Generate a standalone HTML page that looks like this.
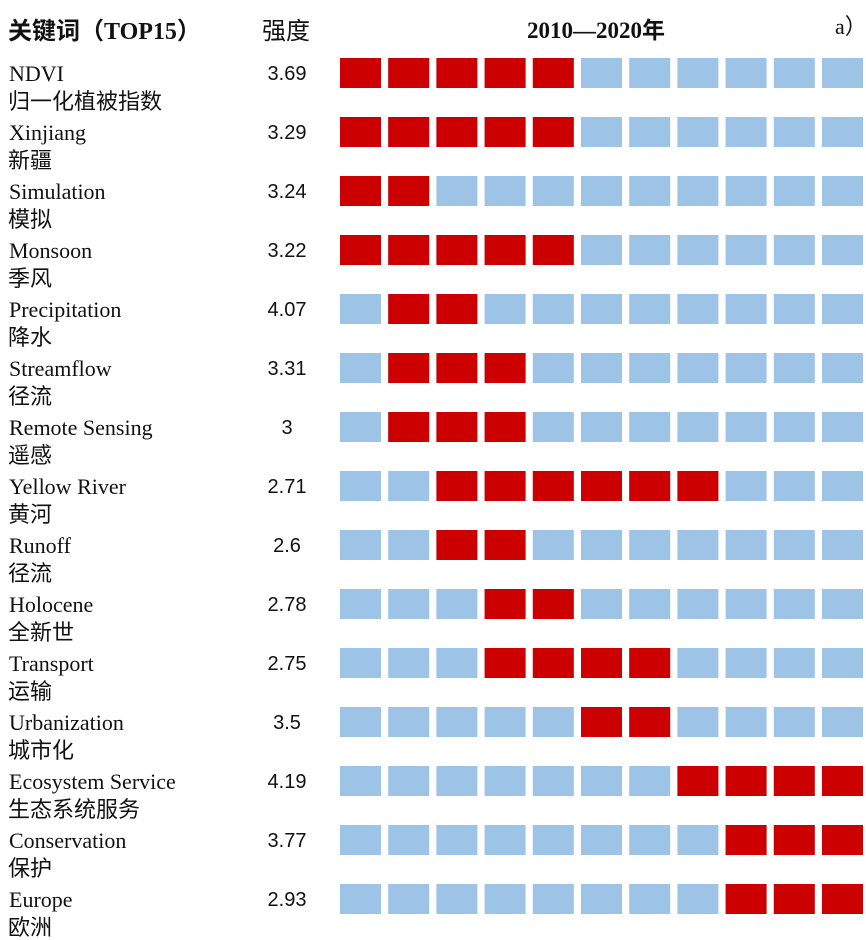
<!DOCTYPE html>
<html><head><meta charset="utf-8"><style>html,body{margin:0;padding:0;background:#fff}svg{display:block}</style></head>
<body>
<svg width="866" height="940" xmlns="http://www.w3.org/2000/svg">
<defs>
<g id="b" fill="#9dc3e6">
<rect x="340" y="0" width="41" height="30"/><rect x="388.2" y="0" width="41" height="30"/><rect x="436.4" y="0" width="41" height="30"/><rect x="484.6" y="0" width="41" height="30"/><rect x="532.8" y="0" width="41" height="30"/><rect x="581" y="0" width="41" height="30"/><rect x="629.2" y="0" width="41" height="30"/><rect x="677.4" y="0" width="41" height="30"/><rect x="725.6" y="0" width="41" height="30"/><rect x="773.8" y="0" width="41" height="30"/><rect x="822" y="0" width="41" height="30"/>
</g>
<rect id="r0" x="340" y="0" width="41" height="30" fill="#cc0000"/>
<rect id="r1" x="388.2" y="0" width="41" height="30" fill="#cc0000"/>
<rect id="r2" x="436.4" y="0" width="41" height="30" fill="#cc0000"/>
<rect id="r3" x="484.6" y="0" width="41" height="30" fill="#cc0000"/>
<rect id="r4" x="532.8" y="0" width="41" height="30" fill="#cc0000"/>
<rect id="r5" x="581" y="0" width="41" height="30" fill="#cc0000"/>
<rect id="r6" x="629.2" y="0" width="41" height="30" fill="#cc0000"/>
<rect id="r7" x="677.4" y="0" width="41" height="30" fill="#cc0000"/>
<rect id="r8" x="725.6" y="0" width="41" height="30" fill="#cc0000"/>
<rect id="r9" x="773.8" y="0" width="41" height="30" fill="#cc0000"/>
<rect id="r10" x="822" y="0" width="41" height="30" fill="#cc0000"/>
</defs>
<g font-family="'Liberation Serif','Noto Sans CJK SC',serif" font-weight="bold" font-size="24" fill="#111">
<text x="8" y="39">关键词（TOP15）</text>
<text x="262" y="39" font-family="'Liberation Sans','Noto Sans CJK SC',sans-serif" font-weight="normal">强度</text>
<text x="527" y="38" font-size="23">2010—2020年</text>
<text x="835" y="34" font-weight="normal" font-size="22">a）</text>
</g>
<g font-family="'Liberation Serif',serif" font-size="22" fill="#111">
<text x="9" y="81">NDVI</text>
<text x="9" y="140">Xinjiang</text>
<text x="9" y="199">Simulation</text>
<text x="9" y="258">Monsoon</text>
<text x="9" y="317">Precipitation</text>
<text x="9" y="376">Streamflow</text>
<text x="9" y="435">Remote Sensing</text>
<text x="9" y="494">Yellow River</text>
<text x="9" y="553">Runoff</text>
<text x="9" y="612">Holocene</text>
<text x="9" y="671">Transport</text>
<text x="9" y="730">Urbanization</text>
<text x="9" y="789">Ecosystem Service</text>
<text x="9" y="848">Conservation</text>
<text x="9" y="907">Europe</text>
</g>
<g font-family="'Noto Sans CJK SC',sans-serif" font-size="22" fill="#111">
<text x="8" y="109">归一化植被指数</text>
<text x="8" y="168">新疆</text>
<text x="8" y="227">模拟</text>
<text x="8" y="286">季风</text>
<text x="8" y="345">降水</text>
<text x="8" y="404">径流</text>
<text x="8" y="463">遥感</text>
<text x="8" y="522">黄河</text>
<text x="8" y="581">径流</text>
<text x="8" y="640">全新世</text>
<text x="8" y="699">运输</text>
<text x="8" y="758">城市化</text>
<text x="8" y="817">生态系统服务</text>
<text x="8" y="876">保护</text>
<text x="8" y="935">欧洲</text>
</g>
<g font-family="'Liberation Sans',sans-serif" font-size="20" fill="#111" text-anchor="middle">
<text x="287" y="80">3.69</text>
<text x="287" y="139">3.29</text>
<text x="287" y="198">3.24</text>
<text x="287" y="257">3.22</text>
<text x="287" y="316">4.07</text>
<text x="287" y="375">3.31</text>
<text x="287" y="434">3</text>
<text x="287" y="493">2.71</text>
<text x="287" y="552">2.6</text>
<text x="287" y="611">2.78</text>
<text x="287" y="670">2.75</text>
<text x="287" y="729">3.5</text>
<text x="287" y="788">4.19</text>
<text x="287" y="847">3.77</text>
<text x="287" y="906">2.93</text>
</g>
<use href="#b" y="58"/><use href="#b" y="117"/><use href="#b" y="176"/><use href="#b" y="235"/><use href="#b" y="294"/>
<use href="#b" y="353"/><use href="#b" y="412"/><use href="#b" y="471"/><use href="#b" y="530"/><use href="#b" y="589"/>
<use href="#b" y="648"/><use href="#b" y="707"/><use href="#b" y="766"/><use href="#b" y="825"/><use href="#b" y="884"/>
<use href="#r0" y="58"/><use href="#r1" y="58"/><use href="#r2" y="58"/><use href="#r3" y="58"/><use href="#r4" y="58"/>
<use href="#r0" y="117"/><use href="#r1" y="117"/><use href="#r2" y="117"/><use href="#r3" y="117"/><use href="#r4" y="117"/>
<use href="#r0" y="176"/><use href="#r1" y="176"/>
<use href="#r0" y="235"/><use href="#r1" y="235"/><use href="#r2" y="235"/><use href="#r3" y="235"/><use href="#r4" y="235"/>
<use href="#r1" y="294"/><use href="#r2" y="294"/>
<use href="#r1" y="353"/><use href="#r2" y="353"/><use href="#r3" y="353"/>
<use href="#r1" y="412"/><use href="#r2" y="412"/><use href="#r3" y="412"/>
<use href="#r2" y="471"/><use href="#r3" y="471"/><use href="#r4" y="471"/><use href="#r5" y="471"/><use href="#r6" y="471"/><use href="#r7" y="471"/>
<use href="#r2" y="530"/><use href="#r3" y="530"/>
<use href="#r3" y="589"/><use href="#r4" y="589"/>
<use href="#r3" y="648"/><use href="#r4" y="648"/><use href="#r5" y="648"/><use href="#r6" y="648"/>
<use href="#r5" y="707"/><use href="#r6" y="707"/>
<use href="#r7" y="766"/><use href="#r8" y="766"/><use href="#r9" y="766"/><use href="#r10" y="766"/>
<use href="#r8" y="825"/><use href="#r9" y="825"/><use href="#r10" y="825"/>
<use href="#r8" y="884"/><use href="#r9" y="884"/><use href="#r10" y="884"/>
</svg>
</body></html>
